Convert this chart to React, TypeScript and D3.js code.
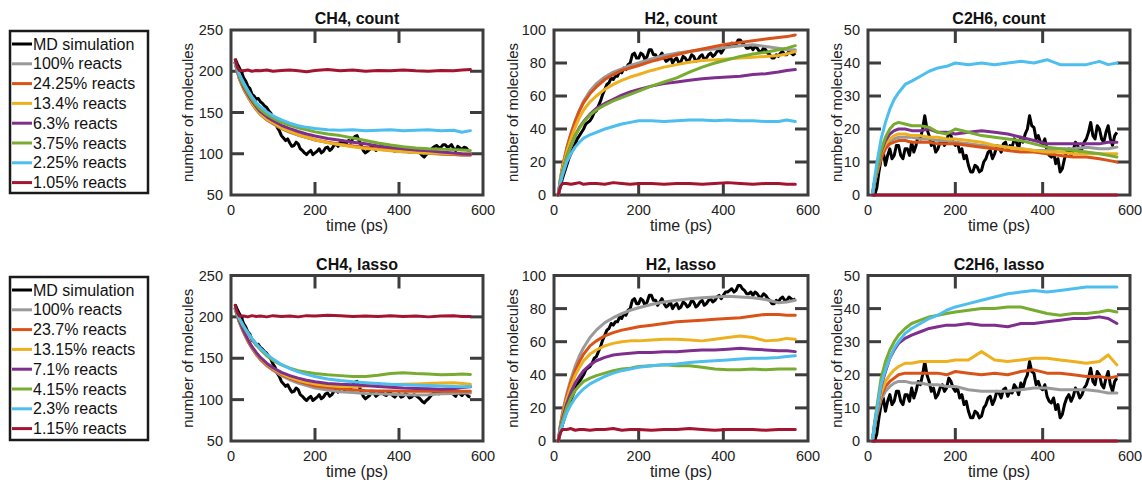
import React from "react";
import * as d3 from "d3";

// ---------- data ----------
const tMD = [10, 15, 20, 25, 30, 35, 40, 45, 50, 55, 60, 65, 70, 75, 80, 85, 90, 95, 100, 105,
  110, 115, 120, 125, 130, 135, 140, 145, 150, 155, 160, 165, 170, 175, 180, 185, 190, 195, 200, 205,
  210, 215, 220, 225, 230, 235, 240, 245, 250, 255, 260, 265, 270, 275, 280, 285, 290, 295, 300, 305,
  310, 315, 320, 325, 330, 335, 340, 345, 350, 355, 360, 365, 370, 375, 380, 385, 390, 395, 400, 405,
  410, 415, 420, 425, 430, 435, 440, 445, 450, 455, 460, 465, 470, 475, 480, 485, 490, 495, 500, 505,
  510, 515, 520, 525, 530, 535, 540, 545, 550, 555, 560, 565, 570];
const tFit = [10, 15, 20, 30, 40, 50, 60, 70, 85, 100, 120, 140, 160, 180, 200, 230, 260, 290, 320, 350,
  380, 410, 440, 470, 500, 530, 550, 570];

const mdCH4 = [215, 209, 204, 199, 192, 188, 182, 179, 172, 170, 166, 167, 163, 161, 158, 156, 152, 149, 143, 139,
  132, 128, 122, 119, 116, 118, 113, 109, 110, 114, 112, 106, 104, 101, 99, 102, 104, 99, 101, 103,
  106, 101, 103, 107, 108, 104, 106, 110, 112, 109, 114, 116, 112, 113, 116, 114, 118, 121, 122, 116,
  110, 104, 101, 103, 105, 110, 108, 104, 106, 110, 109, 106, 105, 109, 108, 105, 103, 106, 107, 103,
  104, 107, 106, 102, 103, 106, 105, 103, 101, 98, 96, 99, 101, 104, 107, 109, 110, 107, 108, 111,
  111, 108, 109, 111, 106, 104, 109, 107, 105, 108, 107, 104, 103];
const mdH2 = [0, 5, 10, 14, 18, 22, 25, 28, 31, 34, 36, 38, 40, 43, 44, 45, 47, 50, 51, 54,
  57, 61, 64, 67, 68, 71, 70, 72, 72, 75, 74, 77, 76, 79, 80, 85, 86, 83, 83, 86,
  85, 82, 84, 88, 88, 85, 85, 82, 84, 86, 83, 81, 82, 84, 80, 82, 83, 80, 81, 84,
  83, 81, 82, 85, 84, 81, 82, 84, 85, 82, 83, 85, 86, 84, 85, 87, 88, 86, 88, 90,
  90, 91, 92, 90, 91, 94, 94, 92, 91, 89, 89, 90, 88, 90, 89, 87, 87, 89, 88, 86,
  85, 83, 83, 85, 84, 86, 87, 85, 85, 87, 86, 85, 86];
const mdC2H6 = [0, 0, 2, 7, 11, 13, 9, 12, 14, 11, 12, 15, 15, 12, 11, 14, 14, 12, 16, 13,
  15, 18, 17, 20, 24, 20, 18, 15, 16, 13, 14, 16, 17, 15, 16, 19, 18, 16, 15, 16,
  13, 14, 11, 12, 9, 7, 7, 9, 8.5, 7, 7.5, 10, 11, 13, 13.5, 11, 12.5, 15, 14.5, 13,
  15.5, 16, 13.5, 15, 14.5, 17, 16, 14, 17.5, 16, 18.5, 20, 24, 21, 20.5, 17, 18, 16, 15.5, 17,
  13.5, 12, 11.5, 13, 9.5, 11, 7, 8, 11, 13, 14, 12, 13.5, 16, 15, 13, 14, 16, 17, 19,
  22, 18, 17, 21, 20, 17, 16, 19, 21, 17, 15, 18, 19];

// CH4, count
const ch4CountGray = [210, 199.5, 190.5, 178.5, 169, 160.5, 153.5, 147.5, 141, 136.5, 130.5, 126, 122.5, 119.5, 116.5, 113.5, 111, 109, 107, 105.5, 104, 102.5, 101.5, 100.5, 99.5, 99, 98.5, 98.5];
const ch4CountOrange = [210, 200, 191, 179, 169.5, 161, 154, 148, 141.5, 137, 131, 126.5, 123, 120, 117, 114, 111.5, 109.5, 107.5, 106, 104.5, 103, 102, 101, 100, 99, 98.5, 98.5];
const ch4CountYellow = [210, 200, 191.5, 179.5, 170, 161.5, 154.5, 148.5, 142, 137.5, 131.5, 127, 123, 120, 117, 113.5, 111, 108.5, 106.5, 105, 103.5, 102.5, 101.5, 101, 100.5, 100, 100, 100];
const ch4CountPurple = [210, 201, 193, 181, 172, 164, 157, 151, 145, 140, 134.5, 130.5, 127, 124, 121.5, 118.5, 116.5, 114, 112, 109.5, 107.5, 106, 104.5, 103.5, 102, 101, 100, 99.5];
const ch4CountGreen = [210, 202, 194, 183, 174, 166, 159, 153.5, 147.5, 143, 138, 134.5, 131.5, 129, 126.5, 124, 122, 119, 116, 113, 110.5, 108.5, 107, 106, 105.5, 105, 104.5, 104];
const ch4CountCyan = [210, 203, 196, 186, 177, 169, 162, 157, 151, 146, 141, 137, 134, 132, 130.5, 129, 128.5, 129, 128, 128.5, 129, 128, 128.5, 129, 128, 128.5, 126, 128];
const ch4CountRed = [214, 205, 201, 200.5, 201.5, 200, 201, 200.5, 201.5, 200, 201, 201.5, 200.5, 199.5, 201, 202, 200.5, 201.5, 200, 201, 200.5, 201.5, 200.5, 200, 201, 200.5, 201.5, 202];

// H2, count
const h2CountGray = [0, 9.5, 17, 28.5, 37.5, 45, 51.5, 57, 63, 67.5, 71.5, 74.5, 76.5, 78.5, 80, 82.5, 84.5, 86, 87, 88, 88.5, 89.5, 90.5, 91, 90, 89, 88, 88];
const h2CountOrange = [0, 9.5, 17, 28, 37, 44.5, 51, 56, 61.5, 65.5, 70, 73, 75.5, 77, 78.5, 81, 83, 85, 87, 88.5, 90, 91.5, 92.5, 93.5, 94.5, 95.5, 96, 97];
const h2CountYellow = [0, 9, 16, 26, 34, 41, 47, 51.5, 56.5, 60, 64, 67, 69.5, 71.5, 73, 75.5, 77.5, 79, 80.5, 81.5, 82, 82.5, 83, 83.5, 84, 84.5, 85.5, 87];
const h2CountPurple = [0, 8, 14, 23, 30, 36, 41, 44.5, 49, 52.5, 55.5, 58, 60.5, 62.5, 64, 66, 67.5, 68.5, 69.5, 70.5, 71, 71.5, 72, 73, 73.5, 74.5, 75.5, 76];
const h2CountGreen = [0, 8, 14, 23, 30, 36, 40.5, 44, 48.5, 51.5, 54.5, 57, 59, 61, 63, 66, 68.5, 71, 74.5, 77.5, 80, 82, 84, 85.5, 86.5, 88, 89, 90.5];
const h2CountCyan = [0, 7, 12, 20, 25, 29, 32, 34.5, 36.5, 38, 40, 41.5, 43, 44, 45, 45, 44.5, 45, 45.5, 45.5, 45, 45.5, 45, 45, 44.5, 44.5, 45.5, 44.5];
const h2CountRed = [0, 5, 7, 7, 6.5, 7, 7.5, 6.5, 7, 7, 6.5, 7.5, 7, 6.5, 7, 7, 6.5, 7, 7, 6.5, 7, 7.5, 7, 6.5, 7, 7, 6.5, 6.5];

// C2H6, count
const c2h6CountGray = [0, 3.5, 6.5, 11.5, 14.5, 16, 17, 17.5, 17.5, 17.5, 17, 17, 16.5, 16.5, 16, 15.5, 15, 15, 14.5, 14, 13.5, 13.5, 14, 14, 14.5, 14, 14, 14.5];
const c2h6CountOrange = [0, 3.5, 6.5, 11, 14, 15.5, 16, 16.5, 16.5, 16, 16, 16, 15.5, 15.5, 15.5, 15, 14.5, 14, 13.5, 13, 13, 12.5, 12, 11.5, 11.5, 11, 10.5, 10];
const c2h6CountYellow = [0, 4, 7, 12.5, 15.5, 17, 18, 18.5, 18.5, 18, 18, 17.5, 17.5, 17, 17, 16.5, 16, 15, 14.5, 14, 13.5, 13, 13, 12.5, 12.5, 12.5, 12.5, 12.5];
const c2h6CountPurple = [0, 4, 7.5, 13, 16.5, 18.5, 19.5, 20, 20, 19.5, 19.5, 20, 19, 19, 18.5, 19, 19.5, 19, 18.5, 17.5, 16.5, 15.5, 15.5, 15.5, 15.5, 15.5, 16, 16];
const c2h6CountGreen = [0, 4, 7.5, 13.5, 17.5, 20, 21.5, 22, 21.5, 21, 21, 20.5, 19, 18.5, 20, 19, 18, 17.5, 17, 16.5, 15.5, 14.5, 14, 13.5, 13, 12.5, 12, 11.5];
const c2h6CountCyan = [0, 5, 9.5, 17, 22, 26, 29, 31, 33.5, 34.5, 36, 37.5, 38.5, 39, 40, 39.5, 40, 39.5, 40, 40.5, 40, 41, 39.5, 39.5, 39.5, 40.5, 39.5, 40];
const c2h6CountRed = [0, 0, 0, 0, 0, 0, 0, 0, 0, 0, 0, 0, 0, 0, 0, 0, 0, 0, 0, 0, 0, 0, 0, 0, 0, 0, 0, 0];

// CH4, lasso
const ch4LassoGray = [210, 201, 193, 181, 170.5, 162, 154.5, 148, 141, 135.5, 129, 124, 120, 117, 114, 111.5, 109.5, 108.5, 107.5, 107, 106.5, 106, 105.5, 106, 107, 107.5, 108, 108];
const ch4LassoOrange = [210, 201.5, 193.5, 181.5, 171, 162.5, 155, 149, 142, 136.5, 130.5, 126, 122, 119, 116.5, 114.5, 113, 112, 111, 110.5, 110.5, 110, 110, 110.5, 110, 110.5, 110, 110];
const ch4LassoYellow = [210, 202, 194, 182.5, 172, 163.5, 156, 150, 143, 137.5, 131.5, 127, 123.5, 121, 119, 117, 116, 116, 116.5, 117.5, 118, 118.5, 119, 119.5, 120, 120.5, 119.5, 118.5];
const ch4LassoPurple = [210, 202, 195, 183, 173, 164, 157, 151, 144, 138.5, 133, 129, 126, 123.5, 121.5, 119.5, 118.5, 118, 117, 116, 115, 114, 113.5, 113, 112.5, 113, 114.5, 115.5];
const ch4LassoGreen = [210, 203, 197, 188, 180, 173, 166, 160.5, 153, 147.5, 142, 138, 135, 133, 131.5, 130, 129, 128, 128, 129.5, 131.5, 132.5, 131.5, 131, 130, 130.5, 131, 130.5];
const ch4LassoCyan = [210, 204, 198, 189, 181, 174, 167.5, 162, 155, 149, 142.5, 137.5, 133.5, 130.5, 128, 125, 123, 121.5, 120.5, 119.5, 118.5, 118, 117.5, 117, 116.5, 116, 115.5, 116];
const ch4LassoRed = [214, 205, 201, 201, 200, 201.5, 200.5, 201, 200, 201.5, 200.5, 201, 200, 201.5, 201, 202, 201.5, 200.5, 201, 200.5, 201.5, 200.5, 201, 200, 201, 201.5, 200.5, 200.5];

// H2, lasso
const h2LassoGray = [0, 9.5, 17, 28.5, 37.5, 45, 51.5, 56.5, 62.5, 67, 71.5, 74.5, 77, 79, 80.5, 82.5, 84, 85, 86, 86.5, 87, 87.5, 87, 86.5, 85.5, 83.5, 84, 85];
const h2LassoOrange = [0, 9, 16, 27, 35.5, 42.5, 48, 52.5, 57.5, 60.5, 63.5, 65.5, 67, 68, 69, 70, 71, 72, 72.5, 73, 73.5, 74, 74.5, 75.5, 76.5, 76.5, 76, 76];
const h2LassoYellow = [0, 8.5, 15, 25, 33, 39.5, 44.5, 48.5, 52.5, 55, 57.5, 59, 60, 60.5, 60.5, 61, 61.5, 61.5, 61, 60.5, 61.5, 62.5, 63.5, 62.5, 60.5, 61, 62, 61.5];
const h2LassoPurple = [0, 8, 13.5, 22.5, 29.5, 35, 39, 42.5, 46, 48.5, 50.5, 52, 52.5, 53, 53.5, 53.5, 54, 54, 54.5, 55, 55, 55.5, 56, 55.5, 55, 54.5, 54.5, 54];
const h2LassoGreen = [0, 7, 12, 20, 26, 30.5, 33.5, 36, 38, 39.5, 41, 42.5, 43.5, 44, 45, 45.5, 46, 45.5, 45.5, 44.5, 43.5, 43, 43, 43.5, 43, 43.5, 43.5, 43.5];
const h2LassoCyan = [0, 6, 10, 17, 22, 26, 29, 31.5, 34.5, 36.5, 39, 41, 42.5, 43.5, 44.5, 45.5, 46, 46.5, 47.5, 48, 48.5, 49, 49.5, 50, 50, 50.5, 51, 51.5];
const h2LassoRed = [0, 5, 7, 7, 7.5, 6.5, 7, 7, 6.5, 7, 7, 7.5, 6.5, 7, 7, 6.5, 7, 7, 7.5, 7, 6.5, 7, 7, 7, 6.5, 7, 7, 7];

// C2H6, lasso
const c2h6LassoGray = [0, 4, 7.5, 12.5, 15, 16.5, 17.5, 18, 18, 17.5, 17.5, 17, 17, 16.5, 16.5, 15.5, 15, 15, 15, 15.5, 16, 16, 15.5, 15.5, 15.5, 15, 14.5, 14.5];
const c2h6LassoOrange = [0, 4.5, 8, 13.5, 16.5, 18, 19, 20, 20.5, 20.5, 20.5, 20.5, 20.5, 20, 21, 20.5, 20, 20.5, 20, 21, 21.5, 20.5, 20.5, 20, 19.5, 19.5, 19, 19.5];
const c2h6LassoYellow = [0, 4.5, 8.5, 14.5, 18, 20, 21.5, 22.5, 23.5, 23.5, 24, 24, 24, 24, 24.5, 24.5, 27, 24.5, 24, 24.5, 25, 25, 24.5, 24, 23.5, 24, 26, 23];
const c2h6LassoPurple = [0, 5, 9, 16.5, 21, 25, 27.5, 29.5, 31, 32, 33, 34, 34.5, 35, 35, 35.5, 35, 35, 34.5, 35.5, 35.5, 36, 36.5, 37, 37, 37.5, 37, 35.5];
const c2h6LassoGreen = [0, 5.5, 10, 19, 24, 27.5, 30, 32, 34, 35.5, 36.5, 37.5, 38, 38.5, 39, 39.5, 40, 40, 40.5, 40.5, 39.5, 38.5, 38, 38.5, 38.5, 39, 39.5, 39];
const c2h6LassoCyan = [0, 5, 9, 17, 21.5, 25, 28, 30, 32.5, 34, 35.5, 37, 38, 39.5, 40.5, 41.5, 42.5, 43.5, 44.5, 45, 45.5, 45, 45.5, 46, 46.5, 46.5, 46.5, 46.5];
const c2h6LassoRed = [0, 0, 0, 0, 0, 0, 0, 0, 0, 0, 0, 0, 0, 0, 0, 0, 0, 0, 0, 0, 0, 0, 0, 0, 0, 0, 0, 0];

const legendCount = ["MD simulation", "100% reacts", "24.25% reacts", "13.4% reacts", "6.3% reacts", "3.75% reacts", "2.25% reacts", "1.05% reacts"];
const legendLasso = ["MD simulation", "100% reacts", "23.7% reacts", "13.15% reacts", "7.1% reacts", "4.15% reacts", "2.3% reacts", "1.15% reacts"];
const seriesColors = ["#000000", "#9a9a9a", "#D95319", "#EDB120", "#7E2F8E", "#77AC30", "#4DBEEE", "#A2142F"];

const xTicks = [0, 200, 400, 600];
const ticksCH4 = [50, 100, 150, 200, 250];
const ticksH2 = [0, 20, 40, 60, 80, 100];
const ticksC2H6 = [0, 10, 20, 30, 40, 50];

// ---------- layout ----------
const FONT = "'Liberation Sans', Arial, Helvetica, sans-serif";
const AX = "#3d3d3d";
const cols = [
  { x0: 231, x1: 483, yl: 38 },
  { x0: 554, x1: 808, yl: 36 },
  { x0: 868, x1: 1130, yl: 26 },
];
const rows = [
  { y0: 30, y1: 195 },
  { y0: 275.5, y1: 441 },
];

type PanelDef = {
  title: string;
  domain: [number, number];
  ticks: number[];
  md: number[];
  fits: number[][];
};

const panels: PanelDef[][] = [
  [
    { title: "CH4, count", domain: [50, 250], ticks: ticksCH4, md: mdCH4, fits: [ch4CountGray, ch4CountOrange, ch4CountYellow, ch4CountPurple, ch4CountGreen, ch4CountCyan, ch4CountRed] },
    { title: "H2, count", domain: [0, 100], ticks: ticksH2, md: mdH2, fits: [h2CountGray, h2CountOrange, h2CountYellow, h2CountPurple, h2CountGreen, h2CountCyan, h2CountRed] },
    { title: "C2H6, count", domain: [0, 50], ticks: ticksC2H6, md: mdC2H6, fits: [c2h6CountGray, c2h6CountOrange, c2h6CountYellow, c2h6CountPurple, c2h6CountGreen, c2h6CountCyan, c2h6CountRed] },
  ],
  [
    { title: "CH4, lasso", domain: [50, 250], ticks: ticksCH4, md: mdCH4, fits: [ch4LassoGray, ch4LassoOrange, ch4LassoYellow, ch4LassoPurple, ch4LassoGreen, ch4LassoCyan, ch4LassoRed] },
    { title: "H2, lasso", domain: [0, 100], ticks: ticksH2, md: mdH2, fits: [h2LassoGray, h2LassoOrange, h2LassoYellow, h2LassoPurple, h2LassoGreen, h2LassoCyan, h2LassoRed] },
    { title: "C2H6, lasso", domain: [0, 50], ticks: ticksC2H6, md: mdC2H6, fits: [c2h6LassoGray, c2h6LassoOrange, c2h6LassoYellow, c2h6LassoPurple, c2h6LassoGreen, c2h6LassoCyan, c2h6LassoRed] },
  ],
];

function Panel({ def, x0, x1, y0, y1, yl }: { def: PanelDef; x0: number; x1: number; y0: number; y1: number; yl: number }) {
  const xs = d3.scaleLinear().domain([0, 600]).range([x0, x1]);
  const ys = d3.scaleLinear().domain(def.domain).range([y1, y0]);
  const line = d3.line<[number, number]>().x((d) => xs(d[0])).y((d) => ys(d[1]));
  const mdPath = line(tMD.map((t, i) => [t, def.md[i]] as [number, number])) || "";
  const fitPaths = def.fits.map((arr) => line(tFit.map((t, i) => [t, arr[i]] as [number, number])) || "");
  const tl = 13;
  const innerX = xTicks.filter((t) => t !== 0 && t !== 600);
  const innerY = def.ticks.slice(1, def.ticks.length - 1);
  return (
    <g>
      <rect x={x0} y={y0} width={x1 - x0} height={y1 - y0} fill="white" stroke={AX} strokeWidth={3} />
      {innerX.map((t) => (
        <g key={"xt" + t}>
          <line x1={xs(t)} x2={xs(t)} y1={y1} y2={y1 - tl} stroke={AX} strokeWidth={3} />
          <line x1={xs(t)} x2={xs(t)} y1={y0} y2={y0 + tl} stroke={AX} strokeWidth={3} />
        </g>
      ))}
      {innerY.map((t) => (
        <g key={"yt" + t}>
          <line x1={x0} x2={x0 + tl} y1={ys(t)} y2={ys(t)} stroke={AX} strokeWidth={3} />
          <line x1={x1} x2={x1 - tl} y1={ys(t)} y2={ys(t)} stroke={AX} strokeWidth={3} />
        </g>
      ))}
      <path d={mdPath} fill="none" stroke={seriesColors[0]} strokeWidth={3} strokeLinejoin="round" />
      {fitPaths.map((p, i) => (
        <path key={i} d={p} fill="none" stroke={seriesColors[i + 1]} strokeWidth={3} strokeLinejoin="round" strokeLinecap="round" />
      ))}
      {xTicks.map((t) => (
        <text key={"xl" + t} x={xs(t)} y={y1 + 20} textAnchor="middle" fontSize={14.5} fontFamily={FONT} fill="#222">{t}</text>
      ))}
      {def.ticks.map((t) => (
        <text key={"yl" + t} x={x0 - 8} y={ys(t)} dy="0.36em" textAnchor="end" fontSize={14.5} fontFamily={FONT} fill="#222">{t}</text>
      ))}
      <text x={(x0 + x1) / 2} y={y0 - 6} textAnchor="middle" fontSize={16} fontWeight="bold" fontFamily={FONT} fill="#111">{def.title}</text>
      <text x={(x0 + x1) / 2} y={y1 + 36} textAnchor="middle" fontSize={16} fontFamily={FONT} fill="#222">time (ps)</text>
      <text transform={`translate(${x0 - yl},${(y0 + y1) / 2}) rotate(-90)`} textAnchor="middle" fontSize={15} fontFamily={FONT} fill="#222">number of molecules</text>
    </g>
  );
}

function Legend({ labels, y0, y1, first }: { labels: string[]; y0: number; y1: number; first: number }) {
  return (
    <g>
      <rect x={10} y={y0} width={138} height={y1 - y0} fill="white" stroke="#1a1a1a" strokeWidth={2.5} />
      {labels.map((lab, i) => {
        const y = first + i * 19.8;
        return (
          <g key={lab}>
            <line x1={12} x2={32} y1={y} y2={y} stroke={seriesColors[i]} strokeWidth={3} />
            <text x={33} y={y + 5.6} fontSize={16} fontFamily={FONT} fill="#111">{lab}</text>
          </g>
        );
      })}
    </g>
  );
}

export default function App() {
  return (
    <svg width={1142} height={484} style={{ position: "absolute", left: 0, top: 0, background: "white" }}>
      <rect x={0} y={0} width={1142} height={484} fill="white" />
      {panels.map((row, r) =>
        row.map((def, c) => (
          <Panel key={r + "-" + c} def={def} x0={cols[c].x0} x1={cols[c].x1} y0={rows[r].y0} y1={rows[r].y1} yl={cols[c].yl} />
        ))
      )}
      <Legend labels={legendCount} y0={31} y1={193} first={44} />
      <Legend labels={legendLasso} y0={277} y1={440} first={290} />
    </svg>
  );
}
